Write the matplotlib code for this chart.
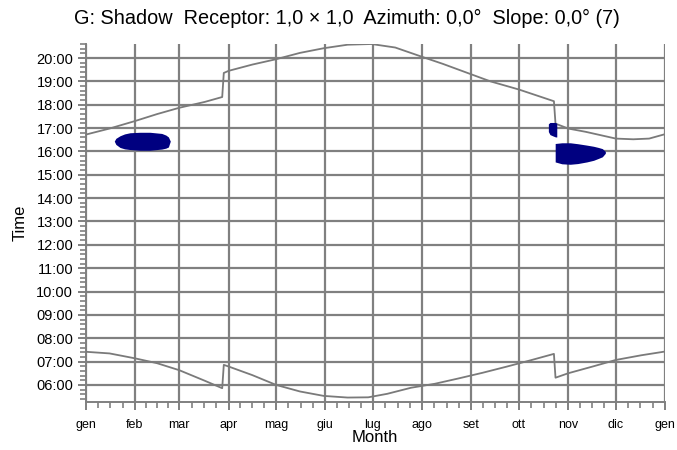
import matplotlib
matplotlib.use("Agg")
import matplotlib.pyplot as plt
from matplotlib.ticker import FixedLocator, MultipleLocator, FuncFormatter

plt.rcParams['font.family'] = ['Liberation Sans', 'DejaVu Sans']

# ---- data ----
month_labels = ["gen", "feb", "mar", "apr", "mag", "giu", "lug", "ago", "set", "ott", "nov", "dic", "gen"]
month_starts = [0, 31, 59, 90, 120, 151, 181, 212, 243, 273, 304, 334, 365]

sunrise_day = [0, 15, 31, 45, 59, 75, 86, 87, 90, 105, 120, 135, 150, 165, 178, 190, 205, 220,
               235, 250, 265, 280, 295, 296, 304, 320, 334, 350, 364]
sunrise_hr = [7.42, 7.35, 7.14, 6.93, 6.63, 6.18, 5.86, 6.86, 6.79, 6.42, 6.00, 5.72, 5.53, 5.46,
              5.47, 5.62, 5.88, 6.05, 6.28, 6.52, 6.78, 7.05, 7.33, 6.31, 6.50, 6.80, 7.07, 7.27, 7.42]

sunset_day = [0, 15, 31, 45, 59, 75, 86, 87, 90, 105, 120, 135, 150, 165, 180, 195, 212, 225,
              243, 255, 273, 295, 296, 304, 315, 334, 345, 355, 364]
sunset_hr = [16.72, 16.98, 17.30, 17.60, 17.87, 18.12, 18.33, 19.36, 19.45, 19.72, 19.95, 20.22,
             20.42, 20.57, 20.60, 20.45, 20.05, 19.75, 19.30, 19.00, 18.65, 18.15, 17.19, 16.98,
             16.84, 16.55, 16.52, 16.55, 16.72]

# shadow periods: day, upper time, lower time (hours)
shadow1_day = [18.0, 19.0, 21.6, 24.5, 27.9, 34.0, 40.5, 47.9, 50.5, 52.1, 53.3]
shadow1_top = [16.44, 16.56, 16.67, 16.75, 16.80, 16.82, 16.82, 16.77, 16.70, 16.62, 16.44]
shadow1_bot = [16.44, 16.30, 16.17, 16.11, 16.08, 16.05, 16.05, 16.10, 16.14, 16.19, 16.44]

shadow2_day = [291.5, 292.5, 294.5, 296.0, 296.8]
shadow2_top = [17.18, 17.24, 17.24, 17.24, 17.20]
shadow2_bot = [16.85, 16.72, 16.66, 16.62, 16.62]

shadow3_day = [295.8, 300.0, 305.3, 310.0, 315.7, 320.0, 323.0, 325.5, 327.4]
shadow3_top = [16.34, 16.37, 16.37, 16.33, 16.27, 16.22, 16.17, 16.12, 16.00]
shadow3_bot = [15.55, 15.47, 15.45, 15.48, 15.55, 15.62, 15.70, 15.77, 15.92]

title = "G: Shadow  Receptor: 1,0 \u00d7 1,0  Azimuth: 0,0\u00b0  Slope: 0,0\u00b0 (7)"

# ---- figure ----
fig = plt.figure(figsize=(6.77, 4.5), dpi=100)
ax = fig.add_axes([0.1266, 0.1067, 0.9823 - 0.1266, 0.9022 - 0.1067])

gray = "#808080"
ax.set_xlim(0, 365)
ax.set_ylim(5.27, 20.6)

ax.xaxis.set_major_locator(FixedLocator(month_starts))
ax.set_xticklabels(month_labels)
minor_x = []
for a, b in zip(month_starts[:-1], month_starts[1:]):
    for k in (1, 2, 3):
        minor_x.append(a + (b - a) * k / 4)
ax.xaxis.set_minor_locator(FixedLocator(minor_x))

ax.yaxis.set_major_locator(FixedLocator(list(range(6, 21))))
ax.yaxis.set_minor_locator(MultipleLocator(0.2))
ax.yaxis.set_major_formatter(FuncFormatter(lambda v, p: "%02d:00" % int(round(v))))

ax.grid(True, which="major", color=gray, linewidth=1.6)
ax.set_axisbelow(True)

for s in ("top", "right"):
    ax.spines[s].set_visible(False)
for s in ("left", "bottom"):
    ax.spines[s].set_color(gray)
    ax.spines[s].set_linewidth(1.4)

ax.tick_params(axis="both", which="major", direction="out", length=6, width=1.4, color=gray,
               labelsize=9, labelcolor="black")
ax.tick_params(axis="both", which="minor", direction="out", length=4, width=1.2, color=gray)
ax.tick_params(axis="y", labelsize=10.5, pad=3)
ax.tick_params(axis="x", pad=6)

ax.plot(sunrise_day, sunrise_hr, color="#7a7a7a", linewidth=1.3, zorder=3)
ax.plot(sunset_day, sunset_hr, color="#7a7a7a", linewidth=1.3, zorder=3)

navy = "#000080"
for d, t, b in ((shadow1_day, shadow1_top, shadow1_bot),
                (shadow2_day, shadow2_top, shadow2_bot),
                (shadow3_day, shadow3_top, shadow3_bot)):
    ax.fill_between(d, b, t, color=navy, linewidth=0, zorder=4)

ax.set_ylabel("Time", fontsize=12, labelpad=6)

fig.text(375 / 677, 1 - 438 / 450, "Month", ha="center", va="center", fontsize=12)
fig.text(347 / 677, 1 - 18 / 450, title, ha="center", va="center", fontsize=14.3)

fig.savefig("out.png", dpi=100)
